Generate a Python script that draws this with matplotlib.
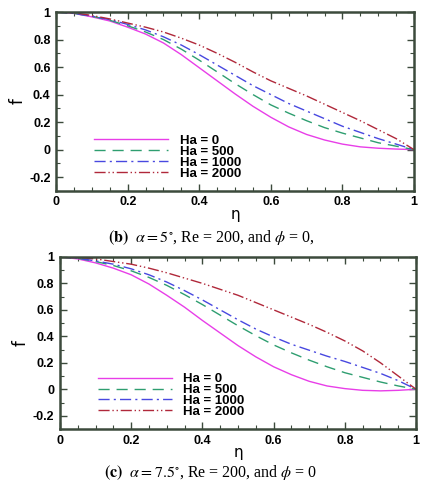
import matplotlib
matplotlib.use("Agg")
import matplotlib.pyplot as plt
from matplotlib.ticker import MultipleLocator

plt.rcParams['mathtext.fontset'] = 'stix'

eta = [0, 0.05, 0.1, 0.15, 0.2, 0.25, 0.3, 0.35, 0.4, 0.45, 0.5,
       0.55, 0.6, 0.65, 0.7, 0.75, 0.8, 0.85, 0.9, 0.95, 1.0]

labels = ['Ha = 0', 'Ha = 500', 'Ha = 1000', 'Ha = 2000']

# panel (b): alpha = 5 deg
b_ha0 = [1, 0.99, 0.965, 0.935, 0.89, 0.84, 0.775, 0.69, 0.595, 0.50, 0.405,
         0.315, 0.235, 0.165, 0.11, 0.07, 0.04, 0.02, 0.01, 0.004, 0]
b_ha500 = [1, 0.99, 0.97, 0.94, 0.90, 0.855, 0.80, 0.73, 0.65, 0.565, 0.48,
           0.40, 0.325, 0.265, 0.21, 0.16, 0.12, 0.085, 0.05, 0.025, 0]
b_ha1000 = [1, 0.99, 0.97, 0.945, 0.91, 0.87, 0.82, 0.76, 0.69, 0.615, 0.54,
            0.465, 0.40, 0.335, 0.28, 0.225, 0.17, 0.125, 0.08, 0.04, 0]
b_ha2000 = [1, 0.995, 0.975, 0.95, 0.92, 0.89, 0.855, 0.81, 0.76, 0.70, 0.635,
            0.565, 0.50, 0.445, 0.39, 0.33, 0.27, 0.21, 0.145, 0.08, 0]

# panel (c): alpha = 7.5 deg
c_ha0 = [1, 0.985, 0.955, 0.915, 0.865, 0.795, 0.71, 0.62, 0.52, 0.425, 0.33,
         0.245, 0.17, 0.11, 0.06, 0.025, 0.005, -0.008, -0.012, -0.008, 0]
c_ha500 = [1, 0.99, 0.965, 0.935, 0.895, 0.845, 0.785, 0.715, 0.64, 0.56, 0.48,
           0.405, 0.335, 0.275, 0.22, 0.17, 0.125, 0.09, 0.055, 0.025, 0]
c_ha1000 = [1, 0.99, 0.97, 0.945, 0.91, 0.865, 0.81, 0.745, 0.675, 0.60, 0.525,
            0.455, 0.395, 0.34, 0.295, 0.25, 0.21, 0.165, 0.12, 0.065, 0]
c_ha2000 = [1, 0.995, 0.985, 0.965, 0.945, 0.915, 0.88, 0.84, 0.80, 0.755, 0.71,
            0.655, 0.60, 0.545, 0.49, 0.43, 0.365, 0.29, 0.2, 0.1, 0]

colors = ['#e83ee8', '#2e9e70', '#4848e0', '#b0283a']
styles = ['-', (0, (8, 5)), (0, (8, 3, 1.5, 3)), (0, (8, 2, 1, 2, 1, 2))]

fig = plt.figure(figsize=(4.22, 4.82), dpi=100)
ax1 = fig.add_axes([0.133, 0.604, 0.848, 0.371])
ax2 = fig.add_axes([0.142, 0.110, 0.844, 0.357])

tickfont = {'family': 'Liberation Sans', 'weight': 'bold', 'size': 9}

for ax, series in [(ax1, [b_ha0, b_ha500, b_ha1000, b_ha2000]),
                   (ax2, [c_ha0, c_ha500, c_ha1000, c_ha2000])]:
    for ys, c, ls, lab in zip(series, colors, styles, labels):
        ax.plot(eta, ys, color=c, linestyle=ls, linewidth=1.0, label=lab)
    ax.set_xlim(0, 1)
    ax.set_ylim(-0.3, 1.0)
    ax.xaxis.set_major_locator(MultipleLocator(0.2))
    ax.xaxis.set_minor_locator(MultipleLocator(0.05))
    ax.yaxis.set_major_locator(MultipleLocator(0.2))
    ax.yaxis.set_minor_locator(MultipleLocator(0.1))
    ax.tick_params(which='both', direction='in', top=True, right=True,
                   color='#3c4a3c', pad=4)
    ax.tick_params(which='major', length=5, width=1)
    ax.tick_params(which='minor', length=3, width=0.8)
    ax.set_xticks([0, 0.2, 0.4, 0.6, 0.8, 1.0])
    ax.set_xticklabels(['0', '0.2', '0.4', '0.6', '0.8', '1'], fontdict=tickfont)
    ax.set_yticks([-0.2, 0, 0.2, 0.4, 0.6, 0.8, 1.0])
    ax.set_yticklabels(['-0.2', '0', '0.2', '0.4', '0.6', '0.8', '1'], fontdict=tickfont)
    for sp in ax.spines.values():
        sp.set_color('#3c4a3c')
        sp.set_linewidth(1.8)
    ax.set_xlabel('η', fontsize=11, labelpad=-1)
    ax.set_ylabel('f', fontsize=12, labelpad=2)
    ax.legend(loc='lower left', bbox_to_anchor=(0.08, 0.01), frameon=False,
              handlelength=5.6, handletextpad=0.9, labelspacing=-0.1,
              borderpad=0.2,
              prop={'family': 'Liberation Sans', 'weight': 'bold', 'size': 9.5})

fig.text(0.5, 0.508, r'$\bf{(b)}$  $\alpha = 5^{\circ}$, Re = 200, and $\phi$ = 0,',
         ha='center', va='center', fontsize=11.5, family='Liberation Serif')
fig.text(0.5, 0.02, r'$\bf{(c)}$  $\alpha = 7.5^{\circ}$, Re = 200, and $\phi$ = 0',
         ha='center', va='center', fontsize=11.5, family='Liberation Serif')

fig.savefig('out.png', dpi=100)
